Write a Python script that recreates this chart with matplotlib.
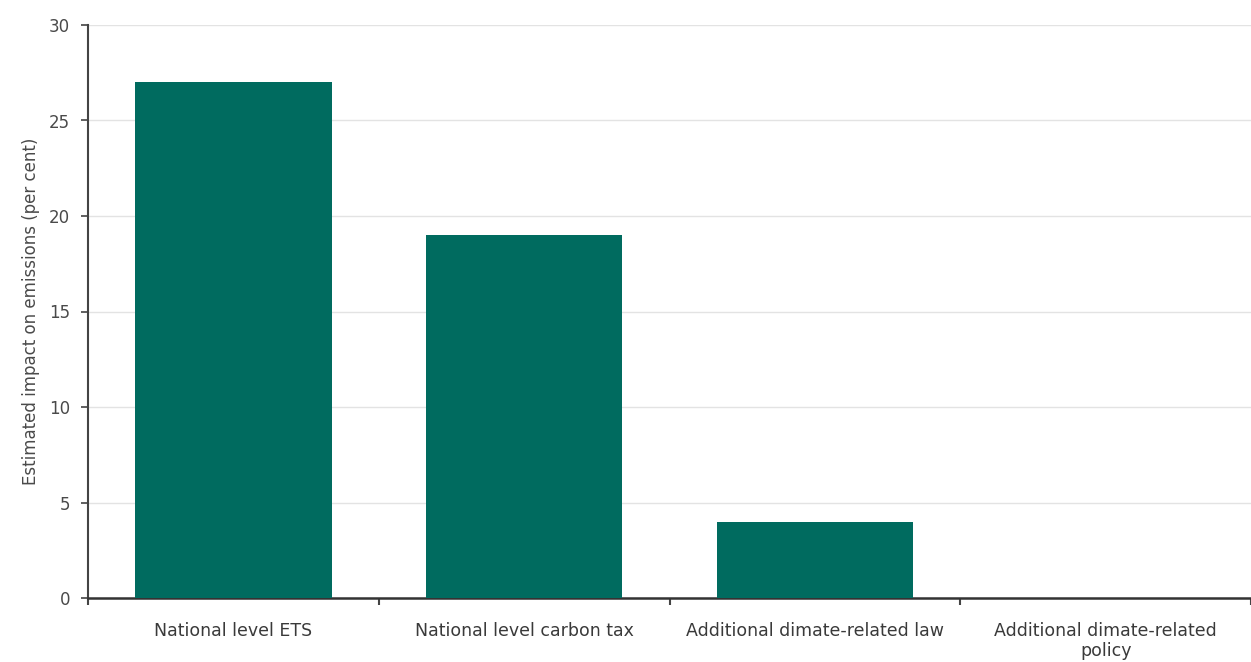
import matplotlib
matplotlib.use("Agg")
import matplotlib.pyplot as plt
import numpy as np

categories = ["National level ETS", "National level carbon tax",
              "Additional dimate-related law", "Additional dimate-related\npolicy"]
values = [27, 19, 4, 0]
yticks = [0, 5, 10, 15, 20, 25, 30]

plt.rcParams['font.family'] = ['DejaVu Sans']

fig = plt.figure(figsize=(12.51, 6.62), dpi=100)
ax = fig.add_axes([88/1251, (662-598)/662, 1 - 88/1251, (598-25)/662])

x = np.arange(len(categories))
ax.bar(x, values, width=0.675, color="#006b5f", zorder=3)

ax.set_xlim(-0.5, len(categories) - 0.5)
ax.set_ylim(0, 30)
ax.set_yticks(yticks)
ax.set_yticklabels([str(v) for v in yticks], fontsize=12, color="#4a4a4a")
ax.set_xticks(x)
ax.set_xticklabels(categories, fontsize=12.5, color="#3a3a3a", linespacing=1.2)
ax.tick_params(axis='x', length=0, pad=17)
ax.set_xticks(np.arange(len(categories) + 1) - 0.5, minor=True)
ax.tick_params(axis='x', which='minor', length=5, width=1.5, color="#444444", direction='out')
ax.tick_params(axis='y', length=5, width=1.2, color="#444444", pad=8)

ax.grid(axis='y', color="#e3e3e3", linewidth=1, zorder=0)
for s in ['top', 'right']:
    ax.spines[s].set_visible(False)
ax.spines['left'].set_color("#444444")
ax.spines['left'].set_linewidth(1.5)
ax.spines['bottom'].set_color("#333333")
ax.spines['bottom'].set_linewidth(1.8)

ax.set_ylabel("Estimated impact on emissions (per cent)", fontsize=12, color="#4a4a4a", labelpad=6)

fig.savefig("out.png", dpi=100, facecolor="white")
